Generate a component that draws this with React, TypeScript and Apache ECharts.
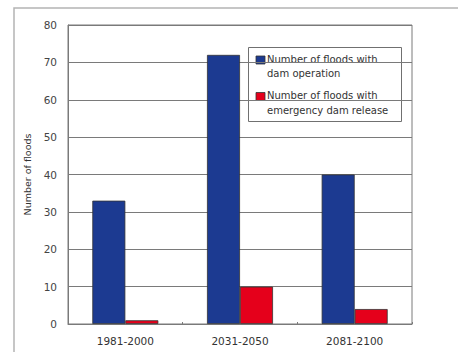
import React, { useEffect, useRef } from "react";
import * as echarts from "echarts";

const categories = ["1981-2000", "2031-2050", "2081-2100"];
const damOperation = [33, 72, 40];
const emergencyRelease = [1, 10, 4];
const seriesNames = ["Number of floods with\ndam operation", "Number of floods with\nemergency dam release"];
const seriesColors = ["#1c3a91", "#e5001b"];
const yTicks = { min: 0, max: 80, interval: 10 };

export default function App() {
  const ref = useRef<HTMLDivElement>(null);
  useEffect(() => {
    if (!ref.current) return;
    const chart = echarts.init(ref.current, null, { renderer: "svg" });
    const font = "DejaVu Sans";
    const legendItems = seriesNames.map((name, i) => ({
      type: "group",
      x: 256,
      y: 56 + i * 36.5,
      children: [
        {
          type: "rect",
          shape: { x: 0, y: 0, width: 9, height: 8 },
          style: { fill: seriesColors[i], stroke: "#333", lineWidth: 0.8 },
        },
        {
          type: "text",
          x: 11,
          y: -4,
          style: {
            text: name,
            fill: "#333",
            font: `10px '${font}'`,
            lineHeight: 14.5,
            textVerticalAlign: "top",
          },
        },
      ],
    }));
    chart.setOption({
      animation: false,
      backgroundColor: "#fff",
      textStyle: { fontFamily: font },
      graphic: [
        {
          type: "rect",
          shape: { x: 14, y: 8, width: 460, height: 360 },
          style: { fill: "none", stroke: "#b4b4b4", lineWidth: 1.5 },
          z: -1,
        },
        {
          type: "group",
          z: 100,
          children: [
            {
              type: "rect",
              shape: { x: 248.5, y: 47.5, width: 153, height: 74 },
              style: { fill: "#fff", stroke: "#707070", lineWidth: 1 },
            },
            ...legendItems,
          ],
        },
      ],
      grid: {
        left: 68,
        top: 25,
        right: 46,
        bottom: 28,
        show: true,
        borderColor: "#7a7a7a",
        borderWidth: 1,
      },
      xAxis: {
        type: "category",
        data: categories,
        axisLine: { lineStyle: { color: "#7a7a7a" } },
        axisTick: { show: true, inside: true, length: 2, lineStyle: { color: "#7a7a7a" } },
        axisLabel: { color: "#333", fontSize: 10.5, margin: 11, fontFamily: font },
      },
      yAxis: {
        type: "value",
        min: yTicks.min,
        max: yTicks.max,
        interval: yTicks.interval,
        name: "Number of floods",
        nameLocation: "middle",
        nameGap: 27,
        nameTextStyle: { color: "#333", fontSize: 9.5, fontFamily: font },
        axisLine: { show: true, lineStyle: { color: "#7a7a7a" } },
        axisTick: { show: false },
        axisLabel: { color: "#444", fontSize: 10.5, margin: 11, fontFamily: font },
        splitLine: { lineStyle: { color: "#7a7a7a", width: 1 } },
      },
      series: [
        {
          name: seriesNames[0],
          type: "bar",
          data: damOperation,
          barWidth: 33,
          barGap: "0%",
          itemStyle: { color: seriesColors[0], borderColor: "#333", borderWidth: 0.8 },
        },
        {
          name: seriesNames[1],
          type: "bar",
          data: emergencyRelease,
          barWidth: 33,
          barGap: "0%",
          itemStyle: { color: seriesColors[1], borderColor: "#333", borderWidth: 0.8 },
        },
      ],
    });
    return () => chart.dispose();
  }, []);
  return <div ref={ref} style={{ width: 458, height: 352, position: "absolute", left: 0, top: 0 }} />;
}
